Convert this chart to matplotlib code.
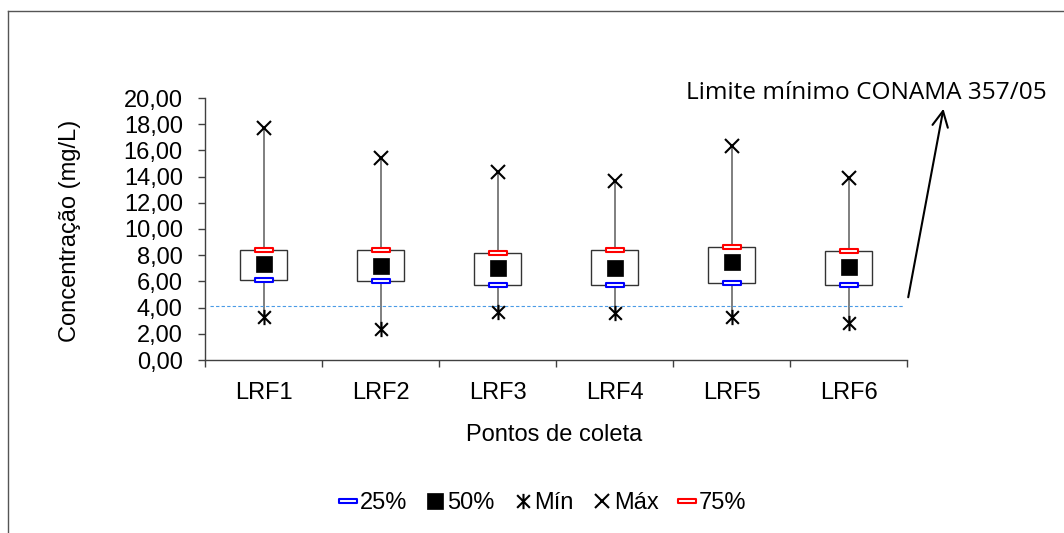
import numpy as np
import matplotlib
matplotlib.use('Agg')
import matplotlib.pyplot as plt
from matplotlib.path import Path
from matplotlib.lines import Line2D
from matplotlib.ticker import FuncFormatter, FixedLocator

# concentracao por ponto de coleta (mg/L)
pontos = ['LRF1', 'LRF2', 'LRF3', 'LRF4', 'LRF5', 'LRF6']
minimo = [3.31, 2.34, 3.69, 3.61, 3.26, 2.80]
q25 = [6.11, 6.03, 5.73, 5.75, 5.88, 5.73]
mediana = [7.33, 7.20, 7.00, 7.05, 7.48, 7.13]
q75 = [8.42, 8.37, 8.14, 8.37, 8.65, 8.29]
maximo = [17.69, 15.44, 14.37, 13.66, 16.34, 13.87]
limite_conama = 4.1
y_ticks = np.arange(0, 21, 2)

plt.rcParams['font.family'] = ['Liberation Sans', 'DejaVu Sans']
FS = 17

# marcadores customizados: retangulo achatado (quartis) e asterisco (minimo)
rect = Path([(-1, -0.22), (1, -0.22), (1, 0.22), (-1, 0.22), (-1, -0.22)],
            [Path.MOVETO, Path.LINETO, Path.LINETO, Path.LINETO, Path.CLOSEPOLY])
aster = Path([(-1, -1), (1, 1), (-1, 1), (1, -1), (0, -1.2), (0, 1.2)],
             [Path.MOVETO, Path.LINETO, Path.MOVETO, Path.LINETO, Path.MOVETO, Path.LINETO])

fig = plt.figure(figsize=(10.64, 5.33), dpi=100)
ax = fig.add_axes([205 / 1064, 1 - 360 / 533, 702 / 1064, 262 / 533])

x = np.arange(len(pontos))
lo = np.array(q25)
hi = np.array(q75)

ax.vlines(x, minimo, maximo, color='#6a6a6a', lw=1.2, zorder=1)
ax.bar(x, hi - lo, bottom=lo, width=0.405, facecolor='white',
       edgecolor='#333333', linewidth=1.0, zorder=2)

h25, = ax.plot(x, q25, ls='none', marker=rect, ms=13, mfc='white',
               mec='#0000ff', mew=1.5, zorder=4, label='25%')
h50, = ax.plot(x, mediana, ls='none', marker='s', ms=11, mfc='black',
               mec='black', mew=0.5, zorder=4, label='50%')
hmin, = ax.plot(x, minimo, ls='none', marker=aster, ms=11, mfc='none',
                mec='black', mew=1.5, zorder=4, label='Mín')
hmax, = ax.plot(x, maximo, ls='none', marker='x', ms=10, mec='black',
                mew=1.5, zorder=4, label='Máx')
h75, = ax.plot(x, q75, ls='none', marker=rect, ms=13, mfc='white',
               mec='#ff0000', mew=1.5, zorder=4, label='75%')

# linha do limite minimo
ax.axhline(limite_conama, xmin=0.007, xmax=0.994, color='#4a9be6',
           lw=0.8, ls=(0, (3, 2)), zorder=1)

ax.set_xlim(-0.5, len(pontos) - 0.5)
ax.set_ylim(0, 20)
ax.yaxis.set_major_locator(FixedLocator(y_ticks))
ax.yaxis.set_major_formatter(FuncFormatter(lambda v, p: f'{v:.2f}'.replace('.', ',')))
ax.set_xticks(x)
ax.set_xticklabels(pontos)
ax.set_xticks(np.arange(len(pontos) + 1) - 0.5, minor=True)
ax.tick_params(axis='x', which='major', length=0, pad=16, labelsize=FS)
ax.tick_params(axis='x', which='minor', length=5, width=1, color='#404040', direction='out')
ax.tick_params(axis='y', length=5, width=1, color='#404040', direction='out', pad=11, labelsize=FS)

for s in ['top', 'right']:
    ax.spines[s].set_visible(False)
for s in ['left', 'bottom']:
    ax.spines[s].set_color('#404040')
    ax.spines[s].set_linewidth(1.0)

ax.set_ylabel('Concentração (mg/L)', fontsize=FS)
ax.yaxis.set_label_coords(-0.176, 0.494)
ax.set_xlabel('Pontos de coleta', fontsize=FS)
ax.xaxis.set_label_coords(0.497, -0.243)

# anotacao do limite CONAMA
ax.annotate('', xy=(5.816, 19.39), xytext=(5.506, 4.58),
            arrowprops=dict(arrowstyle='->', lw=1.5, color='black', mutation_scale=28),
            annotation_clip=False)
fig.text(686 / 1064, 1 - 99 / 533, 'Limite mínimo CONAMA 357/05',
         family='Open Sans', fontsize=17.6, va='baseline')

fig.legend(handles=[h25, h50, hmin, hmax, h75], loc='center',
           bbox_to_anchor=(543 / 1064, 1 - 503 / 533), ncol=5, frameon=False,
           fontsize=FS, handlelength=0.7, handletextpad=0.15, columnspacing=0.85,
           borderaxespad=0)

# moldura do grafico
fig.add_artist(Line2D([8 / 1064, 8 / 1064], [0, 1 - 11 / 533], color='#555555', lw=1.0))
fig.add_artist(Line2D([8 / 1064, 1], [1 - 11 / 533, 1 - 11 / 533], color='#555555', lw=1.0))

fig.savefig('out.png', dpi=100)
